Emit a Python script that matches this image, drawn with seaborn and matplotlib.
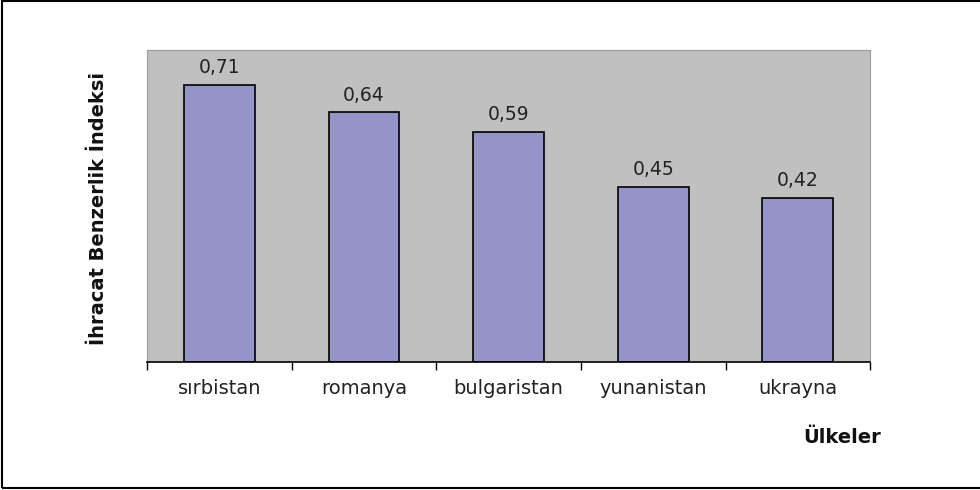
import matplotlib
matplotlib.use("Agg")
import matplotlib.pyplot as plt
import seaborn as sns
import pandas as pd
from matplotlib.patches import Rectangle

countries = ["sırbistan", "romanya", "bulgaristan", "yunanistan", "ukrayna"]
values = [0.71, 0.64, 0.59, 0.45, 0.42]
value_labels = ["0,71", "0,64", "0,59", "0,45", "0,42"]

df = pd.DataFrame({"ulke": countries, "deger": values})

sns.set_style("white")
plt.rcParams["font.family"] = ["DejaVu Sans"]

fig = plt.figure(figsize=(9.8, 4.9), dpi=100)
ax = fig.add_axes([0.15, 0.261, 0.738, 0.637])
ax.set_facecolor("#C0C0C0")

sns.barplot(data=df, x="ulke", y="deger", color="#9494C8", width=0.49,
            edgecolor="black", linewidth=1.2, saturation=1, ax=ax)

for i, lab in enumerate(value_labels):
    ax.text(i, values[i] + 0.02, lab, ha="center", va="bottom", fontsize=13.5, color="#222222")

ax.set_ylim(0, 0.8)
ax.set_xlim(-0.5, 4.5)
ax.set_yticks([])
ax.set_xticks([-0.5, 0.5, 1.5, 2.5, 3.5, 4.5], minor=False)
ax.set_xticklabels([])
ax.set_xticks(range(5), minor=True)
ax.set_xticklabels(countries, minor=True, fontsize=14, color="#222222")
ax.tick_params(axis="x", which="major", direction="out", length=6, width=1, color="black", bottom=True)
ax.tick_params(axis="x", which="minor", length=0, pad=12)

for s in ["top", "right", "left"]:
    ax.spines[s].set_color("#9a9a9a")
    ax.spines[s].set_linewidth(0.8)
ax.spines["bottom"].set_color("black")
ax.spines["bottom"].set_linewidth(1.2)

ax.set_xlabel("")
ax.set_ylabel("")
fig.text(0.1, 0.575, "İhracat Benzerlik İndeksi", rotation=90, ha="center", va="center",
         fontsize=14, fontweight="bold", color="#111111")
fig.text(0.859, 0.108, "Ülkeler", ha="center", va="center", fontsize=14, fontweight="bold",
         color="#111111")

fig.patches.append(Rectangle((0.002, 0.004), 1.05, 0.994, transform=fig.transFigure,
                             fill=False, edgecolor="black", linewidth=1.5))

fig.savefig("out.png", dpi=100)
